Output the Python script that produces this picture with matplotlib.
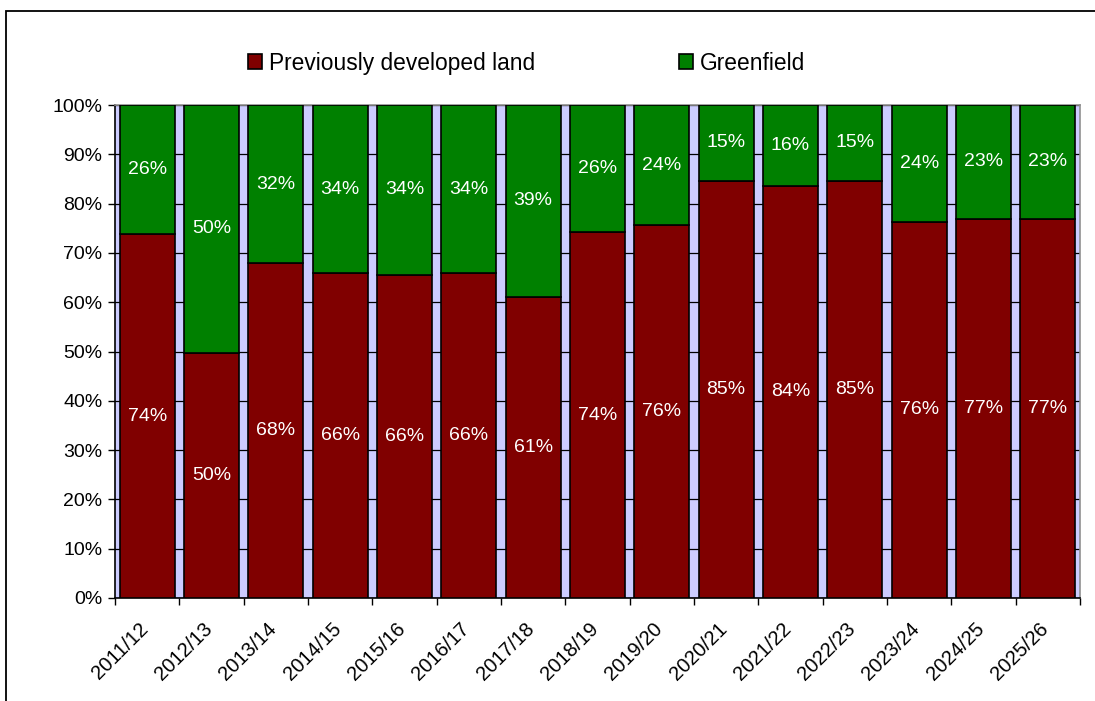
import matplotlib
matplotlib.use('Agg')
from matplotlib import pyplot as plt
from matplotlib.patches import Rectangle
from matplotlib.transforms import ScaledTranslation
import numpy as np

plt.rcParams['font.family'] = ['Liberation Sans', 'DejaVu Sans']

years = ['2011/12', '2012/13', '2013/14', '2014/15', '2015/16', '2016/17', '2017/18',
         '2018/19', '2019/20', '2020/21', '2021/22', '2022/23', '2023/24', '2024/25', '2025/26']
previously_developed = [73.8, 49.7, 67.9, 65.9, 65.6, 65.9, 61.1, 74.2, 75.6, 84.6, 83.6, 84.6, 76.3, 76.9, 76.9]
greenfield = [26.2, 50.3, 32.1, 34.1, 34.4, 34.1, 38.9, 25.8, 24.4, 15.4, 16.4, 15.4, 23.7, 23.1, 23.1]

red = '#800000'
green = '#008000'

fig = plt.figure(figsize=(10.95, 7.01), dpi=100)
ax = fig.add_axes([115 / 1095, 1 - 598 / 701, (1080 - 115) / 1095, (598 - 105) / 701])
ax.set_facecolor('#CCCCFF')

x = np.arange(len(years))
w = 0.85
b1 = ax.bar(x, previously_developed, w, color=red, edgecolor='black', linewidth=1.2,
            label='Previously developed land', zorder=3)
b2 = ax.bar(x, greenfield, w, bottom=previously_developed, color=green, edgecolor='black',
            linewidth=1.2, label='Greenfield', zorder=3)

for i in range(len(years)):
    p = previously_developed[i]
    g = greenfield[i]
    ax.text(x[i], p / 2, f'{p:.0f}%', ha='center', va='center', color='white', fontsize=14, zorder=4)
    ax.text(x[i], p + g / 2, f'{g:.0f}%', ha='center', va='center', color='white', fontsize=14, zorder=4)

ax.set_xlim(-0.5, len(years) - 0.5)
ax.set_ylim(0, 100)
ax.set_yticks(np.arange(0, 101, 10))
ax.set_yticklabels([f'{v}%' for v in range(0, 101, 10)], fontsize=14)
ax.yaxis.grid(True, color='black', linewidth=0.9, zorder=0)
ax.set_axisbelow(True)

# labels at bar centres, tick marks at the category boundaries
ax.set_xticks(x)
ax.set_xticklabels(years, rotation=45, ha='right', rotation_mode='anchor', fontsize=14.5)
ax.tick_params(axis='x', which='major', length=0, pad=15)
shift = ScaledTranslation(-9 / 100, 0, fig.dpi_scale_trans)
for lbl in ax.get_xticklabels():
    lbl.set_transform(lbl.get_transform() + shift)
ax.set_xticks(np.arange(-0.5, len(years), 1), minor=True)
ax.tick_params(axis='x', which='minor', length=5, width=1, direction='out')
ax.tick_params(axis='y', length=5, width=1, direction='out', pad=4)

for s in ['left', 'bottom']:
    ax.spines[s].set_color('black')
    ax.spines[s].set_linewidth(1.2)
for s in ['top', 'right']:
    ax.spines[s].set_color('#909090')
    ax.spines[s].set_linewidth(1.2)

fig.legend(handles=[b1, b2], loc='center', bbox_to_anchor=(0.481, 0.91), ncol=2,
           frameon=False, fontsize=16.4, handlelength=0.62, handleheight=0.62,
           handletextpad=0.3, columnspacing=6.3)

fig.add_artist(Rectangle((6 / 1095, -0.5), 1.5, 1.5 - 10.5 / 701, transform=fig.transFigure,
                         fill=False, edgecolor='black', linewidth=1.3, clip_on=False))

fig.savefig('out.png', dpi=100)
